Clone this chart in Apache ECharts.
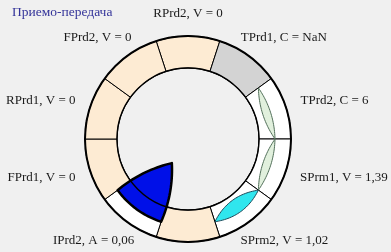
<!DOCTYPE html>
<html><head><meta charset="utf-8">
<script src="https://cdn.jsdelivr.net/npm/echarts@6/dist/echarts.min.js"></script>
<style>html,body{margin:0;padding:0;background:#f0f0f0}#c{width:391px;height:252px}</style>
</head><body><div id="c"></div>
<script>
// ---- data ----
const titleText = 'Приемо-передача';
const categories = ['RPrd2','TPrd1','TPrd2','SPrm1','SPrm2','','IPrd2','FPrd1','RPrd1','FPrd2'];
const metrics    = ['V','C','C','V','V','','A','V','V','V'];
const values     = [0, NaN, 6, 1.39, 1.02, 0, 0.06, 0, 0, 0];
const segmentSize = [1,1,1,1,1,1,1,1,1,1];
const flowSegments = [2, 3, 4, 6];
const flowKinds    = ['lens','lens','lens','wedge'];

// ---- style ----
const FONT = '13px "Liberation Serif"';
const C = { zero:'#FDEBD3', nan:'#D3D3D3', value:'#FFFFFF' };
const FLOW_STYLE = [
  {fill:'#E1F0DD', stroke:'#52705A', lw:1, half:4},
  {fill:'#E1F0DD', stroke:'#52705A', lw:1, half:4},
  {fill:'#30E6EE', stroke:'#1E4A5A', lw:1, half:7},
  {fill:'#0010E8', stroke:'#000000', lw:2.5, half:3.5}
];
const CX = 188, CY = 139, R_OUT = 103, R_IN = 71, R_FLOW = 87, R_TIP = 29, TIP_FRAC = 0.44;
const LABEL_R = 120, LABEL_H = 10;

const N = categories.length, STEP = 360 / N;
const fmt = v => isNaN(v) ? 'NaN' : String(v).replace('.', ',');
const labelText = i => categories[i] ? `${categories[i]}, ${metrics[i]} = ${fmt(values[i])}` : '';
const colorFor = v => isNaN(v) ? C.nan : (v === 0 ? C.zero : C.value);
const norm = a => ((a % 360) + 360) % 360;
const mctx = document.createElement('canvas').getContext('2d');
mctx.font = FONT;

function quad(p0, c, p1, n) {
  const pts = [];
  for (let k = 0; k <= n; k++) {
    const t = k / n, u = 1 - t;
    pts.push([u*u*p0[0] + 2*u*t*c[0] + t*t*p1[0], u*u*p0[1] + 2*u*t*c[1] + t*t*p1[1]]);
  }
  return pts;
}
function ctrl(p0, p1, off, ref) {
  const mx = (p0[0]+p1[0])/2, my = (p0[1]+p1[1])/2;
  const dx = p1[0]-p0[0], dy = p1[1]-p0[1], L = Math.hypot(dx, dy);
  let nx = -dy/L, ny = dx/L;
  if (ref && (nx*(mx-ref[0]) + ny*(my-ref[1])) < 0) { nx = -nx; ny = -ny; }
  return [mx + nx*off, my + ny*off];
}

const chart = echarts.init(document.getElementById('c'), null, {renderer:'canvas'});
chart.setOption({
  animation: false,
  backgroundColor: '#f0f0f0',
  title: { text: titleText, left: 12, top: 5, padding: 0,
    textStyle: { color:'#333399', fontFamily:'Liberation Serif', fontSize:13.5, fontWeight:'normal' } },
  polar: { center: [CX, CY], radius: R_OUT },
  angleAxis: { type:'value', min:0, max:360, startAngle:90, clockwise:true, show:false },
  radiusAxis: { type:'value', min:0, max:R_OUT, show:false },
  series: [
    { type:'pie', z:1, center:[CX, CY], radius:[R_IN, R_OUT], startAngle: 90 + STEP/2, clockwise:true,
      silent:true, label:{show:false}, labelLine:{show:false},
      itemStyle:{ borderColor:'#000', borderWidth:1 },
      data: categories.map((c, i) => ({ name: c || ('seg' + i), value: segmentSize[i],
        itemStyle:{ color: colorFor(values[i]) } })) },
    { type:'custom', z:2, coordinateSystem:'polar', silent:true,
      data: flowSegments.map(s => [R_FLOW, s*STEP]),
      renderItem(params, api) {
        const k = params.dataIndex, s = flowSegments[k], st = FLOW_STYLE[k];
        const a1 = s*STEP - STEP/2, a2 = a1 + STEP;
        const p1 = api.coord([R_FLOW, norm(a1)]), p2 = api.coord([R_FLOW, norm(a2)]);
        let pts;
        if (flowKinds[k] === 'lens') {
          pts = quad(p1, ctrl(p1, p2, 2*st.half), p2, 30)
            .concat(quad(p2, ctrl(p1, p2, -2*st.half), p1, 30));
        } else {
          const tip = api.coord([R_TIP, norm(a1 + TIP_FRAC*STEP)]);
          const cen = [(p1[0]+p2[0]+tip[0])/3, (p1[1]+p2[1]+tip[1])/3];
          pts = [];
          for (let j = 0; j <= 30; j++) pts.push(api.coord([R_FLOW, norm(a2 - j*STEP/30)]));
          pts = pts.concat(quad(p1, ctrl(p1, tip, 2*st.half, cen), tip, 20))
                   .concat(quad(tip, ctrl(tip, p2, 2*st.half, cen), p2, 20));
        }
        return { type:'polygon', shape:{ points: pts },
          style:{ fill: st.fill, stroke: st.stroke, lineWidth: st.lw, lineJoin:'round' } };
      } },
    { type:'custom', z:3, coordinateSystem:'polar', silent:true,
      data: [[0, 0]],
      renderItem(params, api) {
        const c = api.coord([0, 0]);
        const ro = api.coord([R_OUT, 90])[0] - c[0], ri = api.coord([R_IN, 90])[0] - c[0];
        return { type:'group', children:[
          { type:'circle', shape:{cx:c[0], cy:c[1], r:ri}, style:{fill:null, stroke:'#000', lineWidth:1.4} },
          { type:'circle', shape:{cx:c[0], cy:c[1], r:ro}, style:{fill:null, stroke:'#000', lineWidth:2} }
        ]};
      } },
    { type:'custom', z:4, coordinateSystem:'polar', silent:true,
      data: categories.map((c, i) => [LABEL_R, i*STEP]),
      renderItem(params, api) {
        const i = params.dataIndex, t = labelText(i);
        if (!t) return null;
        const ang = i*STEP, th = ang * Math.PI / 180;
        const p = api.coord([LABEL_R, ang]);
        const w = mctx.measureText(t).width;
        return { type:'text', x: p[0] + Math.sin(th)*w/2, y: p[1] - Math.cos(th)*LABEL_H/2,
          style:{ text: t, font: FONT, fill:'#1a1a1a', align:'center', verticalAlign:'middle' } };
      } }
  ]
});
</script></body></html>
